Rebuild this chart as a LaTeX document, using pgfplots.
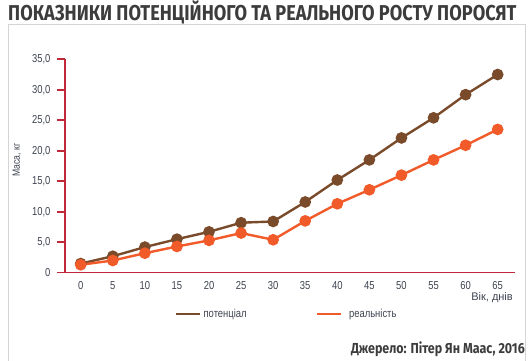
\documentclass[border=0pt]{standalone}
\usepackage{pgfplots}
\pgfplotsset{compat=1.18}
\usepackage{fontspec}
\setmainfont{Liberation Sans}
\newfontfamily\narrow[FakeStretch=0.82]{Liberation Sans}
\newfontfamily\titlefont[FakeStretch=0.845]{Fira Sans Bold}
\newfontfamily\srcfont[FakeStretch=0.86]{Fira Sans Bold}
\definecolor{brownline}{HTML}{7A4B2B}
\definecolor{orangeline}{HTML}{F15A29}
\definecolor{axiscrimson}{HTML}{C1283A}
\definecolor{ticktext}{HTML}{3E4350}
\definecolor{titletext}{HTML}{3C3C3C}
\definecolor{framegray}{HTML}{D4D4D4}
\pgfplotstableread{
x pot real
0 1.5 1.3
5 2.7 2.0
10 4.2 3.2
15 5.5 4.3
20 6.7 5.3
25 8.2 6.5
30 8.4 5.4
35 11.6 8.5
40 15.2 11.3
45 18.5 13.6
50 22.1 16.0
55 25.4 18.5
60 29.2 20.9
65 32.5 23.5
}\mydata
\begin{document}
\begin{tikzpicture}[x=1pt,y=1pt]
\path[use as bounding box] (0,0) rectangle (531,361);
\draw[framegray, line width=1pt] (8,0) -- (8,336) -- (525.5,336) -- (525.5,0);
\node[anchor=west, inner sep=0pt, text=titletext] at (8,348.5) {\titlefont\fontsize{21.5}{24}\selectfont ПОКАЗНИКИ ПОТЕНЦІЙНОГО ТА РЕАЛЬНОГО РОСТУ ПОРОСЯТ};
\begin{axis}[
  at={(65pt,88.3pt)}, anchor=south west,
  scale only axis, width=450pt, height=213.4pt,
  xmin=-2.45, xmax=67.7, ymin=0, ymax=35,
  axis x line=bottom, axis y line=left,
  axis line style={-, axiscrimson, line width=1.6pt},
  xtick={0,5,...,65},
  xtick style={draw=none},
  ytick={0,5,...,35},
  yticklabels={0,{5,0},{10,0},{15,0},{20,0},{25,0},{30,0},{35,0}},
  ytick style={axiscrimson, line width=1.6pt},
  tick align=outside,
  major tick length=8pt,
  tick label style={font=\narrow\fontsize{11.5}{12}\selectfont, text=ticktext},
  xticklabel style={yshift=2.5pt},
  yticklabel style={xshift=-3pt},
  /pgf/number format/assume math mode=true,
  clip=false,
  xlabel={Вік, днів},
  xlabel style={at={(axis description cs:0.949,-0.1155)}, anchor=center, font=\fontsize{11}{12}\selectfont, text=ticktext},
  ylabel={Маса, кг},
  ylabel style={at={(axis description cs:-0.1067,0.528)}, anchor=center, font=\narrow\fontsize{10.5}{12}\selectfont, text=ticktext},
  legend columns=2,
  legend style={at={(axis description cs:0.2445,-0.1934)}, anchor=west, draw=none, fill=none, inner sep=0pt,
    font=\narrow\fontsize{11.5}{12}\selectfont, text=ticktext,
    /tikz/every even column/.append style={column sep=67pt}},
  legend image code/.code={\draw[#1] (0pt,0pt) -- (24pt,0pt);},
]
\addplot[brownline, line width=2.4pt, mark=*, mark size=4.6pt, mark options={solid}] table[x=x, y=pot] {\mydata};
\addlegendentry{потенціал}
\addplot[orangeline, line width=2.4pt, mark=*, mark size=4.6pt, mark options={solid}] table[x=x, y=real] {\mydata};
\addlegendentry{\hspace{5pt}реальність}
\end{axis}
\node[anchor=east, inner sep=0pt, text=titletext] at (525,11.7) {\srcfont\fontsize{14.5}{16}\selectfont Джерело: Пітер Ян Маас, 2016};
\end{tikzpicture}
\end{document}
